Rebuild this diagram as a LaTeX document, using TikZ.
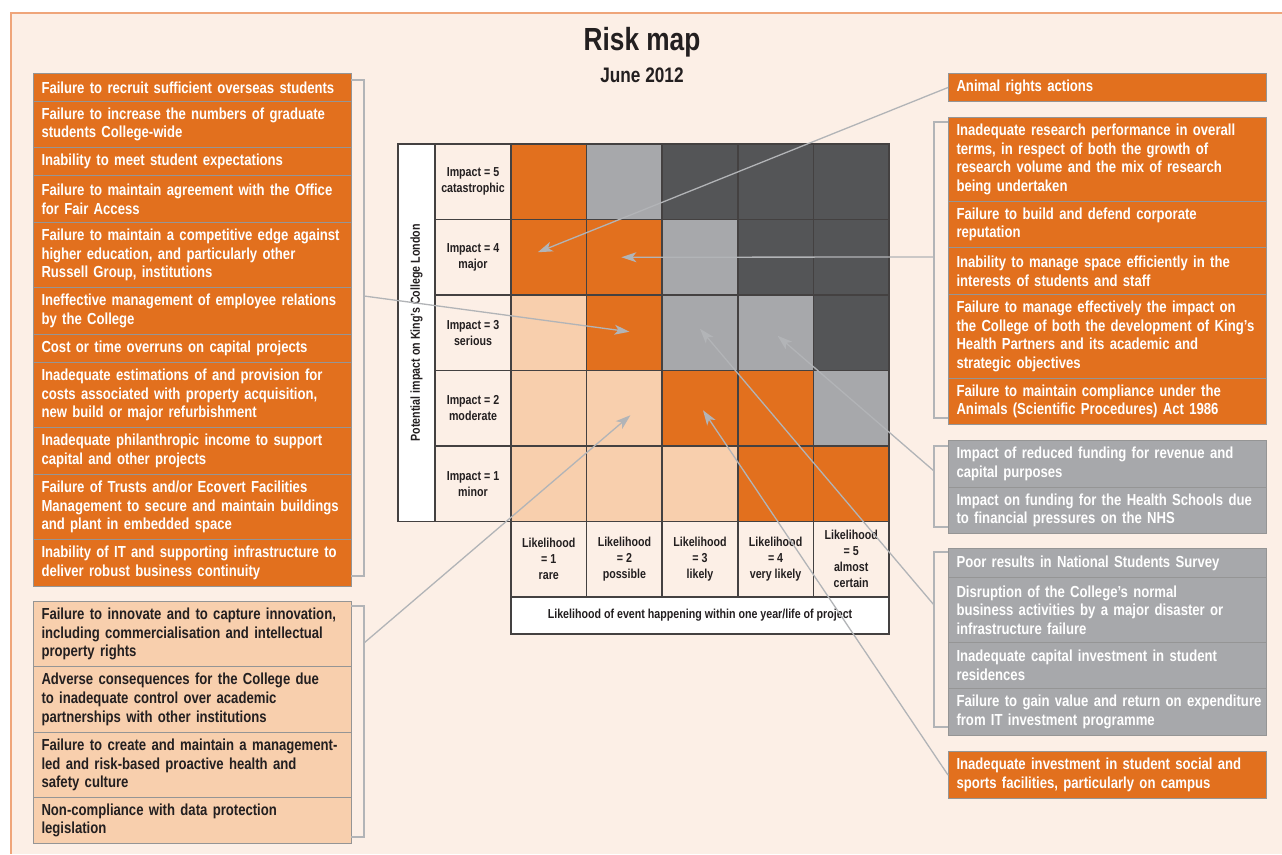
\documentclass[tikz,border=0pt]{standalone}
\usepackage{fontspec}
\setmainfont{Liberation Sans}[FakeStretch=0.82]
\usetikzlibrary{arrows.meta}
\definecolor{riskA}{HTML}{F8CFAD}
\definecolor{riskB}{HTML}{E2701E}
\definecolor{riskC}{HTML}{A7A8AB}
\definecolor{riskD}{HTML}{545557}
\definecolor{paper}{HTML}{FCEFE6}
\definecolor{frameline}{HTML}{EFA57A}
\definecolor{ink}{HTML}{231F20}
\definecolor{linkgray}{HTML}{B2B4B7}
\definecolor{edgegray}{HTML}{959595}
\newcommand\boxfont{\bfseries\fontsize{16}{18.7}\selectfont}
\newcommand\gridfont{\bfseries\fontsize{13}{16}\selectfont}
\tikzset{
  riskbox/.style={draw=edgegray, line width=1pt, anchor=north west, text width=302pt,
    inner xsep=8pt, inner ysep=0pt, align=left, font=\boxfont, text=white},
  cellbox/.style={draw=ink!85, line width=1.5pt, minimum width=75.6pt, minimum height=75.5pt,
    inner sep=0pt, align=center, font=\gridfont, text=ink},
  bracket/.style={linkgray, line width=1.4pt},
  link/.style={linkgray, line width=1.3pt, -{Stealth[length=15pt, width=10pt, inset=4pt]}}
}
\begin{document}
\begin{tikzpicture}[x=1pt, y=-1pt]
\useasboundingbox (0,0) rectangle (1282,854);
\fill[paper] (11,13) rectangle (1282,854);
\draw[frameline, line width=1.5pt] (11,854) -- (11,13) -- (1282,13);
\node[font=\bfseries\fontsize{32}{36}\selectfont, text=ink] (title) at (642,42) {Risk map};
\node[font=\bfseries\fontsize{21}{24}\selectfont, text=ink] (date) at (642,75) {June 2012};

% the 5x5 matrix, rows from impact 5 down to 1
\foreach \r/\ca/\cb/\cc/\cd/\ce in {5/B/C/D/D/D, 4/B/B/C/D/D, 3/A/B/C/C/D, 2/A/A/B/B/C, 1/A/A/A/B/B}
{
	\foreach \k/\f in {1/\ca, 2/\cb, 3/\cc, 4/\cd, 5/\ce}
		\node[cellbox, fill=risk\f] (c\r\k) at ({511+75.6*(\k-0.5)}, {144+75.5*(5.5-\r)}) {};
}
\foreach \r/\txt in {5/catastrophic, 4/major, 3/serious, 2/moderate, 1/minor}
	\node[cellbox, fill=paper] (imp\r) at (473, {144+75.5*(5.5-\r)}) {Impact = \r\\\txt};
\foreach \k/\txt in {1/rare, 2/possible, 3/likely, 4/very likely, 5/almost\\certain}
	\node[cellbox, fill=paper] (lk\k) at ({511+75.6*(\k-0.5)}, 559) {Likelihood\\= \k\\\txt};
\node[draw=ink!85, line width=1.5pt, fill=white, minimum width=37pt, minimum height=377.5pt, inner sep=0pt] (ystrip) at (416.5,332.75) {};
\node[rotate=90, font=\gridfont, text=ink] (ylabel) at (ystrip.center) {Potential impact on King’s College London};
\node[draw=ink!85, line width=1.5pt, fill=white, minimum width=378pt, minimum height=37pt, inner sep=0pt, font=\gridfont, text=ink] (xstrip) at (700,615.5) {Likelihood of event happening within one year/life of project};

% left column
\node[riskbox, fill=riskB, minimum height=28] (lft1) at (33,73) {Failure to recruit sufficient overseas students};
\node[riskbox, fill=riskB, minimum height=46] (lft2) at (33,101) {Failure to increase the numbers of graduate\\students College-wide};
\node[riskbox, fill=riskB, minimum height=28] (lft3) at (33,147) {Inability to meet student expectations};
\node[riskbox, fill=riskB, minimum height=47] (lft4) at (33,175) {Failure to maintain agreement with the Office\\for Fair Access};
\node[riskbox, fill=riskB, minimum height=65] (lft5) at (33,222) {Failure to maintain a competitive edge against\\higher education, and particularly other\\Russell Group, institutions};
\node[riskbox, fill=riskB, minimum height=47] (lft6) at (33,287) {Ineffective management of employee relations\\by the College};
\node[riskbox, fill=riskB, minimum height=28] (lft7) at (33,334) {Cost or time overruns on capital projects};
\node[riskbox, fill=riskB, minimum height=65] (lft8) at (33,362) {Inadequate estimations of and provision for\\costs associated with property acquisition,\\new build or major refurbishment};
\node[riskbox, fill=riskB, minimum height=47] (lft9) at (33,427) {Inadequate philanthropic income to support\\capital and other projects};
\node[riskbox, fill=riskB, minimum height=65] (lft10) at (33,474) {Failure of Trusts and/or Ecovert Facilities\\Management to secure and maintain buildings\\and plant in embedded space};
\node[riskbox, fill=riskB, minimum height=47] (lft11) at (33,539) {\mbox{Inability of IT and supporting infrastructure to}\\deliver robust business continuity};

\node[riskbox, fill=riskA, text=ink, minimum height=65] (pch1) at (33,601) {Failure to innovate and to capture innovation,\\including commercialisation and intellectual\\property rights};
\node[riskbox, fill=riskA, text=ink, minimum height=66] (pch2) at (33,666) {Adverse consequences for the College due\\to inadequate control over academic\\partnerships with other institutions};
\node[riskbox, fill=riskA, text=ink, minimum height=65] (pch3) at (33,732) {Failure to create and maintain a management-\\led and risk-based proactive health and\\safety culture};
\node[riskbox, fill=riskA, text=ink, minimum height=46] (pch4) at (33,797) {Non-compliance with data protection\\legislation};

% right column
\node[riskbox, fill=riskB, minimum height=28] (anim) at (948,73) {Animal rights actions};
\node[riskbox, fill=riskB, minimum height=84] (rgt1) at (948,117) {Inadequate research performance in overall\\terms, in respect of both the growth of\\research volume and the mix of research\\being undertaken};
\node[riskbox, fill=riskB, minimum height=46] (rgt2) at (948,201) {Failure to build and defend corporate\\reputation};
\node[riskbox, fill=riskB, minimum height=47] (rgt3) at (948,247) {Inability to manage space efficiently in the\\interests of students and staff};
\node[riskbox, fill=riskB, minimum height=84] (rgt4) at (948,294) {Failure to manage effectively the impact on\\\mbox{the College of both the development of King’s}\\Health Partners and its academic and\\strategic objectives};
\node[riskbox, fill=riskB, minimum height=46] (rgt5) at (948,378) {Failure to maintain compliance under the\\Animals (Scientific Procedures) Act 1986};

\node[riskbox, fill=riskC, minimum height=47] (gry1) at (948,440) {Impact of reduced funding for revenue and\\capital purposes};
\node[riskbox, fill=riskC, minimum height=46] (gry2) at (948,487) {\mbox{Impact on funding for the Health Schools due}\\to financial pressures on the NHS};

\node[riskbox, fill=riskC, minimum height=29] (gry3) at (948,548) {Poor results in National Students Survey};
\node[riskbox, fill=riskC, minimum height=65] (gry4) at (948,577) {Disruption of the College’s normal\\business activities by a major disaster or\\infrastructure failure};
\node[riskbox, fill=riskC, minimum height=46] (gry5) at (948,642) {Inadequate capital investment in student\\residences};
\node[riskbox, fill=riskC, minimum height=47] (gry6) at (948,688) {\mbox{Failure to gain value and return on expenditure}\\from IT investment programme};

\node[riskbox, fill=riskB, minimum height=47] (sport) at (948,751) {Inadequate investment in student social and\\sports facilities, particularly on campus};

% brackets round the groups
\draw[bracket] (351,80) -| (364,576) -- (351,576);
\draw[bracket] (351,606) -| (364,837) -- (351,837);
\draw[bracket] (948,122) -| (934,418) -- (948,418);
\draw[bracket] (948,446) -| (934,527) -- (948,527);
\draw[bracket] (948,552) -| (934,727) -- (948,727);
\coordinate (lftbr) at (364,296);
\coordinate (pchbr) at (364,643);
\coordinate (rgtbr) at (934,257);
\coordinate (grybrA) at (934,471);
\coordinate (grybrB) at (934,605);

% arrows into the matrix
\draw[link] (lftbr) -- ([shift={(5,-1)}]c32.center);
\draw[link] (pchbr) -- ([shift={(6,7)}]c22.center);
\draw[link] (anim.west) -- ([shift={(-11,-5)}]c41.center);
\draw[link] (rgtbr) -- ([shift={(-3,0)}]c42.center);
\draw[link] (grybrA) -- ([shift={(2,3)}]c34.center);
\draw[link] (grybrB) -- ([shift={(0,-4)}]c33.center);
\draw[link] (sport.west) -- ([shift={(3,2)}]c23.center);
\end{tikzpicture}
\end{document}
